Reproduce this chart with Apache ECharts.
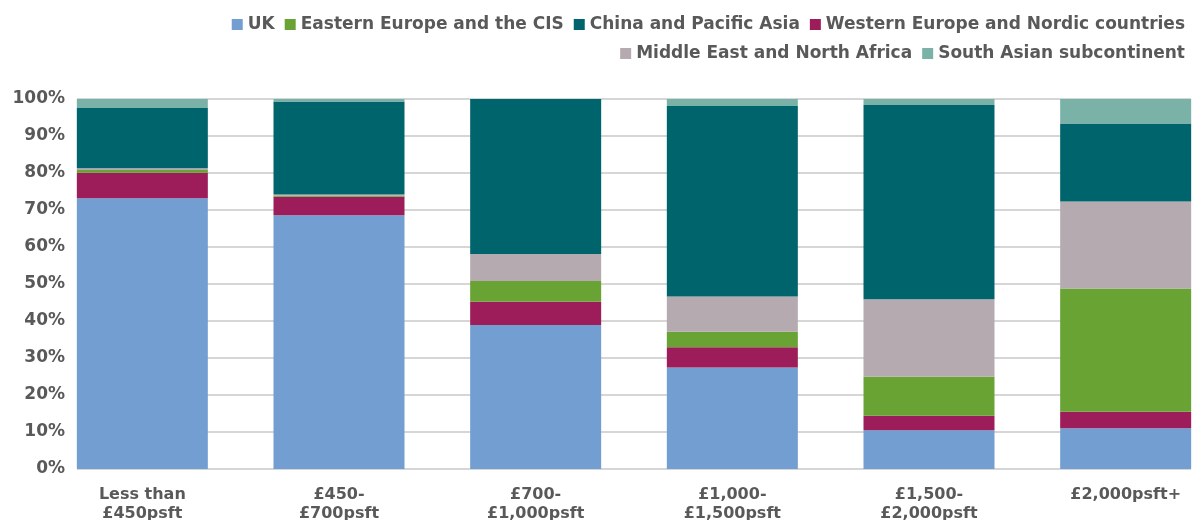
<!DOCTYPE html>
<html lang="en">
<head>
    <meta charset="UTF-8">
    <title>Buyers by price band</title>
    <style>
        html, body { margin: 0; padding: 0; background: #fff; }
    </style>
</head>
<body>
    <div id="main" style="width: 1194px;height:520px;"></div>
    <script src="https://cdn.jsdelivr.net/npm/echarts@6/dist/echarts.min.js"></script>
    <script>

// price bands (x axis)
var categories = ['Less than\n£450psft', '£450-\n£700psft', '£700-\n£1,000psft', '£1,000-\n£1,500psft', '£1,500-\n£2,000psft', '£2,000psft+'];
var yTicks = [0, 10, 20, 30, 40, 50, 60, 70, 80, 90, 100];

// share of buyers, %
var uk          = [73.2, 68.6, 38.9, 27.4, 10.5, 11.0];
var westEurope  = [6.9, 5.0, 6.3, 5.5, 3.9, 4.5];
var eastEurope  = [0.7, 0.3, 5.6, 4.2, 10.5, 33.3];
var middleEast  = [0.5, 0.3, 7.3, 9.5, 21.0, 23.5];
var chinaAsia   = [16.3, 25.1, 41.9, 51.5, 52.5, 21.1];
var southAsia   = [2.4, 0.7, 0.0, 1.9, 1.6, 6.6];

var colors = {
    uk: '#739ed2',
    east: '#68a334',
    china: '#00646c',
    west: '#9d1d5a',
    me: '#b4aaaf',
    sa: '#7ab2a8'
};

var txt = '#595959';
var font = 'DejaVu Sans, Verdana, sans-serif';

function bar(name, data, color) {
    return {
        name: name,
        type: 'bar',
        stack: 'all',
        xAxisIndex: 0,
        yAxisIndex: 0,
        barWidth: 131,
        data: data,
        itemStyle: { color: color },
        emphasis: { disabled: true }
    };
}

var legendText = { color: txt, fontSize: 17, fontWeight: 'bold', fontFamily: font };

var option = {
    animation: false,
    legend: [
        {
            right: 4,
            top: 11,
            itemWidth: 11,
            itemHeight: 11,
            itemGap: 10,
            icon: 'rect',
            textStyle: legendText,
            data: ['UK', 'Eastern Europe and the CIS', 'China and Pacific Asia', 'Western Europe and Nordic countries']
        },
        {
            right: 4,
            top: 40,
            itemWidth: 11,
            itemHeight: 11,
            itemGap: 10,
            icon: 'rect',
            textStyle: legendText,
            data: ['Middle East and North Africa', 'South Asian subcontinent']
        }
    ],
    grid: [
        // bars: bands run past the plot so the outer bars sit flush on its edges
        { left: 44, width: 1180, top: 99, bottom: 51, outerBoundsMode: 'none' },
        // gridlines and y labels
        { left: 77, right: 3, top: 99, bottom: 51, outerBoundsMode: 'none' }
    ],
    xAxis: [
        {
            type: 'category',
            gridIndex: 0,
            data: categories,
            axisLine: { show: false },
            axisTick: { show: false },
            axisLabel: {
                color: txt,
                fontSize: 16,
                fontWeight: 'bold',
                fontFamily: font,
                lineHeight: 19,
                margin: 16,
                interval: 0
            }
        },
        {
            type: 'value',
            gridIndex: 1,
            show: false
        }
    ],
    yAxis: [
        {
            type: 'value',
            gridIndex: 0,
            min: 0,
            max: 100,
            show: false
        },
        {
            type: 'value',
            gridIndex: 1,
            min: 0,
            max: 100,
            interval: 10,
            axisLine: { show: false },
            axisTick: { show: false },
            splitLine: { show: true, lineStyle: { color: '#c9c9c9', width: 1.5 } },
            axisLabel: {
                color: txt,
                fontSize: 17,
                fontWeight: 'bold',
                fontFamily: font,
                margin: 12,
                formatter: function (v) { return yTicks.indexOf(v) > -1 ? v + '%' : ''; }
            }
        }
    ],
    series: [
        bar('UK', uk, colors.uk),
        bar('Western Europe and Nordic countries', westEurope, colors.west),
        bar('Eastern Europe and the CIS', eastEurope, colors.east),
        bar('Middle East and North Africa', middleEast, colors.me),
        bar('China and Pacific Asia', chinaAsia, colors.china),
        bar('South Asian subcontinent', southAsia, colors.sa)
    ]
};

var myChart = echarts.init(document.getElementById('main'));
myChart.setOption(option);

    </script>
</body>
</html>
